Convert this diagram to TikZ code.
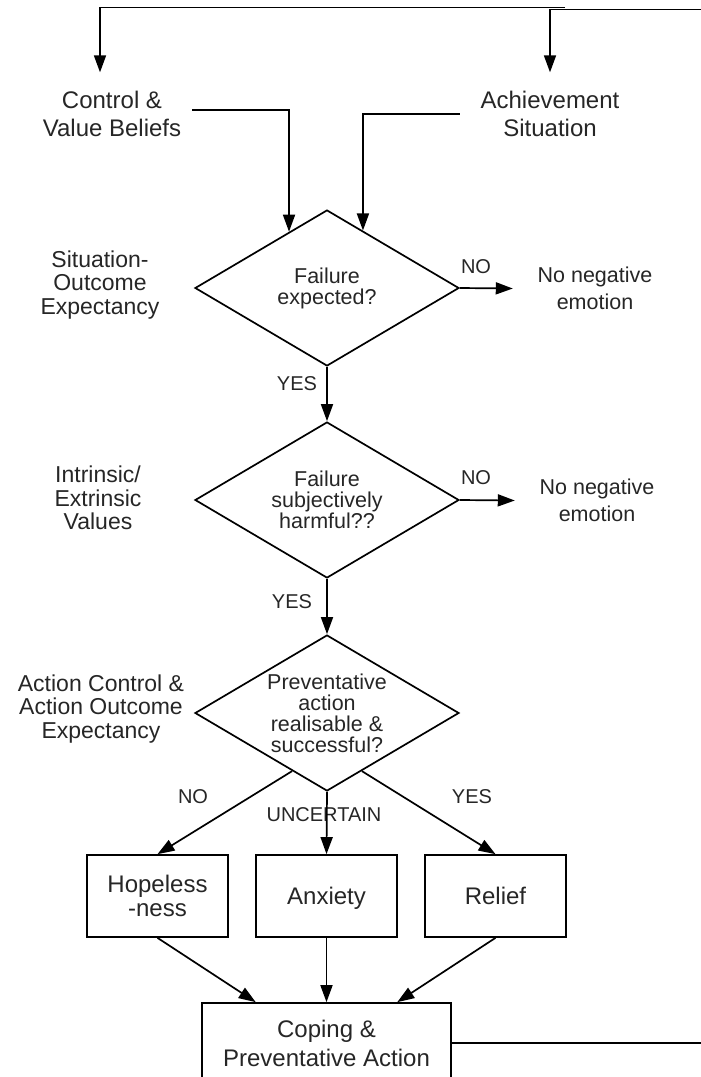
\documentclass[tikz,border=0pt]{standalone}
\usepackage{fontspec}
\setmainfont{Liberation Sans}
\usetikzlibrary{arrows.meta,shapes.geometric}
\begin{document}
\begin{tikzpicture}[x=1pt,y=-1pt,
  line width=1.7pt,
  >={Triangle[length=17pt,width=12pt]},
  txt/.style={text=black!85, align=center, inner sep=0pt},
  toplbl/.style={txt, font=\fontsize{24}{28}\selectfont},
  sidelbl/.style={txt, font=\fontsize{23}{23.5}\selectfont},
  dia/.style={diamond, draw, minimum width=264pt, minimum height=156pt, aspect=1.69, txt, font=\fontsize{21.5}{21}\selectfont},
  small/.style={txt, font=\fontsize{20}{20}\selectfont},
  noneg/.style={txt, inner xsep=24pt, font=\fontsize{21.5}{27}\selectfont},
  emo/.style={draw, txt, minimum width=141pt, minimum height=82pt, font=\fontsize{24}{24}\selectfont},
  oneline/.style={text height=17pt, text depth=0pt},
  cope/.style={draw, txt, minimum width=249pt, minimum height=80pt, font=\fontsize{24}{29}\selectfont}
]
\path[use as bounding box] (0,0) rectangle (701,1077);
\clip (0,0) rectangle (701,1077);

% top labels
\node[toplbl, inner xsep=10pt, inner ysep=18pt] (cv) at (112,114) {Control \&\\Value Beliefs};
\node[toplbl, inner xsep=20pt, inner ysep=18pt] (ach) at (550,114) {Achievement\\Situation};

% side labels
\node[sidelbl] (sit) at (100,285) {Situation-\\Outcome\\Expectancy};
\node[sidelbl] (iev) at (98,498) {Intrinsic/\\Extrinsic\\Values};
\node[sidelbl] (ace) at (101,709) {Action Control \&\\Action Outcome\\Expectancy};

% diamonds
\node[dia] (d1) at (327,288) {Failure\\expected?};
\node[dia] (d2) at (327,500) {Failure\\subjectively\\harmful??};
\node[dia] (d3) at (327,713) {Preventative\\action\\realisable \&\\successful?};

% no negative emotion
\node[noneg] (nn1) at (595,288.5) {No negative\\emotion};
\node[noneg] (nn2) at (597,500.5) {No negative\\emotion};

% labels on connectors
\node[small] (no1) at (476,267) {NO};
\node[small] (no2) at (476,478) {NO};
\node[small] (yes1) at (297,384) {YES};
\node[small] (yes2) at (292,602) {YES};
\node[small] (no3) at (193,797) {NO};
\node[small] (unc) at (324,815) {UNCERTAIN};
\node[small] (yes3) at (472,797) {YES};

% emotion boxes
\node[emo] (hope) at (157.5,896) {Hopeless\\-ness};
\node[emo, oneline] (anx) at (326.5,896) {Anxiety};
\node[emo, oneline] (rel) at (495.5,896) {Relief};

% coping
\node[cope] (cp) at (326.5,1043) {Coping \&\\Preventative Action};

% feedback loop ends
\coordinate (tl) at (565,7.5);
\coordinate (tr) at (710,9.5);
\coordinate (br) at (710,1043);

% connectors
\draw[->] (tl) -| ([xshift=-12pt]cv.north);
\draw[->] (tr) -| (ach.north);
\draw[->] ([yshift=4pt]cv.east) -| (d1.124);
\draw[->] (ach.west) -| (d1.58);
\draw[->] (d1.east) -- (nn1.west);
\draw[->] (d2.east) -- (nn2.west);
\draw[->] (d1.south) -- (d2.north);
\draw[->] (d2.south) -- (d3.north);
\draw[->] (d3.239) -- (hope.north);
\draw[->] (d3.south) -- (anx.north);
\draw[->] (d3.301) -- (rel.north);
\draw[->] (hope.south) -- (cp.150);
\draw[->] (anx.south) -- (cp.north);
\draw[->] (rel.south) -- (cp.30);
\draw (cp.east) -- (br);
\end{tikzpicture}
\end{document}
